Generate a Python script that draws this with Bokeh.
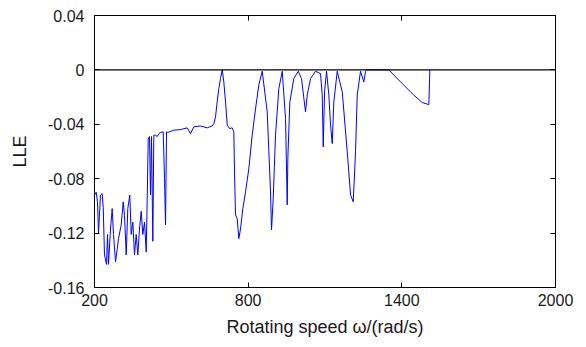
from bokeh.plotting import figure
from bokeh.models import LinearAxis, FixedTicker, Span, Range1d
from bokeh.embed import file_html
from bokeh.resources import INLINE

# Rotating speed (rad/s) and largest Lyapunov exponent
speed = [200, 206.6, 211.7, 215.6, 223.4, 230.1, 234, 239, 246.9, 250.8, 254.7, 262.5,
         269.1, 274.2, 282, 288.6, 293.7, 304.3, 312.1, 317.2, 323.8, 330, 337.8, 343.3,
         349.6, 356.2, 362.8, 369.1, 375.7, 382.4, 388.6, 395.3, 401.9, 405.8, 409.7,
         414.8, 418.7, 422.6, 427.7, 431.6, 438.2, 444.8, 451.1, 457.7, 468.3, 473.4,
         477.3, 481.2, 486.2, 509.7, 535.8, 562, 574.9, 587.8, 613.9, 640.1, 659.6,
         665.9, 672.5, 679.1, 685.4, 692, 698.7, 704.9, 711.6, 718.2, 727.2, 737.7, 744,
         746.7, 750.6, 757.2, 763.5, 770.1, 779.1, 789.7, 802.5, 815.8, 828.7, 841.6,
         854.9, 874.4, 887.3, 891.2, 897.8, 906.8, 919.7, 933, 945.9, 952.5, 954.9,
         962.7, 978.3, 995.5, 1008.3, 1023.9, 1030.6, 1043.5, 1063, 1082.5, 1089.2,
         1093.1, 1098.2, 1106, 1115, 1121.6, 1128.3, 1134.5, 1147.8, 1167.4, 1186.9,
         1199.7, 1210.2, 1219.2, 1225.8, 1238.7, 1251.6, 1258.3, 1262.2, 1349.2, 1394.9,
         1446.9, 1479.7, 1505.5, 1509.4]
lle = [-0.092, -0.090, -0.097, -0.120, -0.092, -0.091, -0.101, -0.136, -0.143, -0.121,
       -0.143, -0.117, -0.102, -0.121, -0.141, -0.132, -0.124, -0.114, -0.097, -0.107,
       -0.136, -0.102, -0.092, -0.121, -0.112, -0.136, -0.121, -0.136, -0.117, -0.104,
       -0.121, -0.112, -0.134, -0.095, -0.051, -0.049, -0.092, -0.049, -0.126, -0.048,
       -0.048, -0.049, -0.047, -0.046, -0.0456, -0.080, -0.114, -0.0456, -0.046,
       -0.0443, -0.0439, -0.0426, -0.0468, -0.0419, -0.0412, -0.0426, -0.0412, -0.0395,
       -0.0345, -0.0235, -0.0137, -0.0064, 0.0, -0.0088, -0.0235, -0.0404, -0.0431,
       -0.0426, -0.0456, -0.075, -0.1066, -0.1095, -0.124, -0.117, -0.102, -0.0897,
       -0.0728, -0.0478, -0.0287, -0.011, -0.001, -0.0309, -0.0897, -0.1176, -0.0946,
       -0.048, -0.0137, -0.001, -0.0358, -0.0992, -0.0652, -0.0235, -0.0064, -0.001,
       -0.0064, -0.0309, -0.0186, -0.0064, -0.001, -0.0027, -0.0184, -0.0566, -0.0162,
       -0.001, -0.0184, -0.0404, -0.0542, -0.0235, -0.001, -0.0162, -0.0603, -0.0919,
       -0.097, -0.0603, -0.0184, -0.001, -0.0088, -0.001, 0.0, 0.0, -0.0088, -0.0186,
       -0.024, -0.0255, 0.0]

x_ticks = [200, 800, 1400, 2000]
y_ticks = [-0.16, -0.12, -0.08, -0.04, 0, 0.04]
y_tick_labels = ["-0.16", "-0.12", "-0.08", "-0.04", "0", "0.04"]

FONT = "Liberation Sans"
TXT = "#1a1a1a"

p = figure(width=578, height=339, output_backend="svg", toolbar_location=None,
           x_range=Range1d(200, 2000), y_range=Range1d(-0.16, 0.04),
           min_border_left=94, min_border_right=23, min_border_top=15, min_border_bottom=52,
           background_fill_color="white", border_fill_color="white")
p.grid.visible = False
p.outline_line_color = "black"
p.outline_line_width = 1

p.line(speed, lle, line_color="#0000ff", line_width=1)
p.add_layout(Span(location=0, dimension="width", line_color="black", line_width=1.2))


def style(ax, ticks):
    ax.ticker = FixedTicker(ticks=ticks)
    ax.major_tick_in = 5
    ax.major_tick_out = 0
    ax.minor_tick_line_color = None
    ax.axis_line_color = "black"
    ax.major_tick_line_color = "black"
    ax.major_label_text_font = FONT
    ax.major_label_text_color = TXT
    ax.major_label_text_font_size = "16px"


style(p.xaxis[0], x_ticks)
style(p.yaxis[0], y_ticks)
p.yaxis[0].major_label_overrides = {t: s for t, s in zip(y_ticks, y_tick_labels)}
p.xaxis[0].major_label_standoff = 6
p.yaxis[0].major_label_standoff = 10

p.xaxis[0].axis_label = "Rotating speed \u03c9/(rad/s)"
p.yaxis[0].axis_label = "LLE"
for ax in (p.xaxis[0], p.yaxis[0]):
    ax.axis_label_text_font = FONT
    ax.axis_label_text_font_style = "normal"
    ax.axis_label_text_font_size = "18px"
    ax.axis_label_text_color = TXT
p.xaxis[0].axis_label_standoff = 8
p.yaxis[0].axis_label_standoff = 15

# mirrored tick marks on the top and right edges (box style), without labels
top = LinearAxis()
right = LinearAxis()
style(top, x_ticks)
style(right, y_ticks)
for ax, ticks in ((top, x_ticks), (right, y_ticks)):
    ax.major_label_overrides = {t: "" for t in ticks}
    ax.major_label_standoff = 0
    ax.major_label_text_font_size = "1px"
p.add_layout(top, "above")
p.add_layout(right, "right")

open("out.html", "w").write(file_html(p, INLINE))
